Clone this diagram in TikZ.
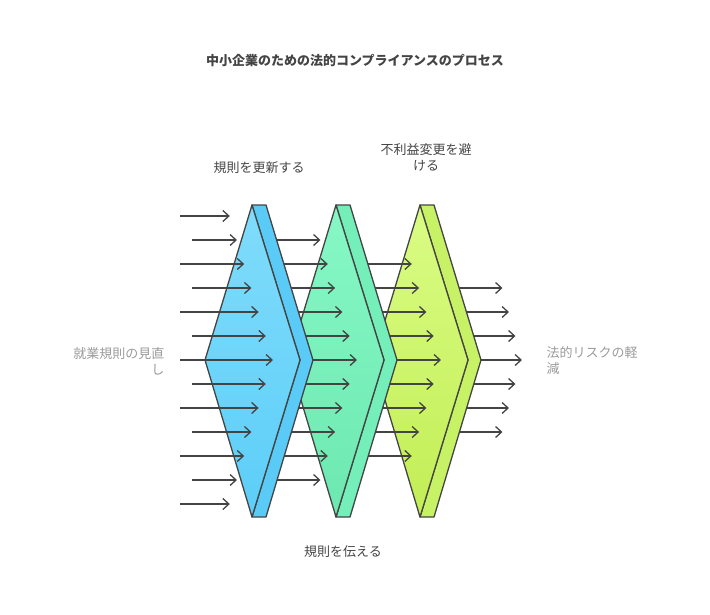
\documentclass[tikz,border=0pt]{standalone}
\usepackage{fontspec}
\setmainfont{Noto Sans CJK JP}
\usetikzlibrary{arrows.meta}
\definecolor{ink}{HTML}{444444}
\definecolor{labelgray}{HTML}{9A9A9A}
\definecolor{limetop}{HTML}{DAFC84}
\definecolor{limebot}{HTML}{C2EE55}
\definecolor{limeside}{HTML}{C8F266}
\definecolor{mintop}{HTML}{86F8C6}
\definecolor{mintbot}{HTML}{6DE8B0}
\definecolor{mintside}{HTML}{74EFBA}
\definecolor{skytop}{HTML}{80DCFB}
\definecolor{skybot}{HTML}{5CCEF8}
\definecolor{skyside}{HTML}{5ACBF6}
\tikzset{
  flow/.style={draw=ink, line width=1.3pt, -{Straight Barb[length=6pt,width=11pt]}},
  face/.style={draw=ink, line width=1.3pt, line join=round},
  caption/.style={text=ink, font=\fontsize{13}{16}\selectfont, align=center},
  sidecap/.style={text=labelgray, font=\fontsize{13}{16}\selectfont},
}
% lens #1: x offset, #2: top colour, #3: bottom colour, #4: side colour
\newcommand{\lens}[4]{
  \fill[#4] (252+#1,205) -- (266+#1,205) -- (313+#1,360) -- (266+#1,517) -- (252+#1,517) -- (300+#1,360) -- cycle;
  \draw[face] (252+#1,205) -- (266+#1,205) -- (313+#1,360) -- (266+#1,517) -- (252+#1,517) -- (300+#1,360) -- cycle;
  \shade[top color=#2, bottom color=#3] (252+#1,205) -- (300+#1,360) -- (252+#1,517) -- (205+#1,360) -- cycle;
  \draw[face] (252+#1,205) -- (300+#1,360) -- (252+#1,517) -- (205+#1,360) -- cycle;
}
\begin{document}
\begin{tikzpicture}[x=1pt,y=-1pt]
\useasboundingbox (0,0) rectangle (710,614);

% title
\node[text=ink, font=\fontsize{13}{16}\selectfont\bfseries] (title) at (355,60) {中小企業のための法的コンプライアンスのプロセス};

% outgoing arrows
\foreach \i in {-3,...,3}{
  \pgfmathsetmacro{\yy}{360+24*\i}
  \pgfmathsetmacro{\xe}{522-abs(\i)*6.5}
  \draw[flow] (440,\yy) -- (\xe,\yy);
}

% third stage
\lens{168}{limetop}{limebot}{limeside}
\foreach \i in {-4,...,4}{
  \pgfmathsetmacro{\yy}{360+24*\i}
  \pgfmathsetmacro{\xe}{441-abs(\i)*7.3}
  \draw[flow] (355,\yy) -- (\xe,\yy);
}

% second stage
\lens{84}{mintop}{mintbot}{mintside}
\foreach \i in {-5,...,5}{
  \pgfmathsetmacro{\yy}{360+24*\i}
  \pgfmathsetmacro{\xe}{357-abs(\i)*7.3}
  \draw[flow] (270,\yy) -- (\xe,\yy);
}

% first stage
\lens{0}{skytop}{skybot}{skyside}
\foreach \i in {-6,...,6}{
  \pgfmathsetmacro{\yy}{360+24*\i}
  \pgfmathsetmacro{\xs}{isodd(\i) ? 192 : 180}
  \pgfmathsetmacro{\xe}{273-abs(\i)*7.2}
  \draw[flow] (\xs,\yy) -- (\xe,\yy);
}

% labels
\node[caption] (update) at (259,168) {規則を更新する};
\node[caption] (avoid) at (426,157) {不利益変更を避\\ける};
\node[caption] (inform) at (343,552) {規則を伝える};
\node[sidecap, anchor=east, align=right] (review) at (168,361) {就業規則の見直\\し};
\node[sidecap, anchor=west, align=left] (risk) at (543,361) {法的リスクの軽\\減};
\end{tikzpicture}
\end{document}
